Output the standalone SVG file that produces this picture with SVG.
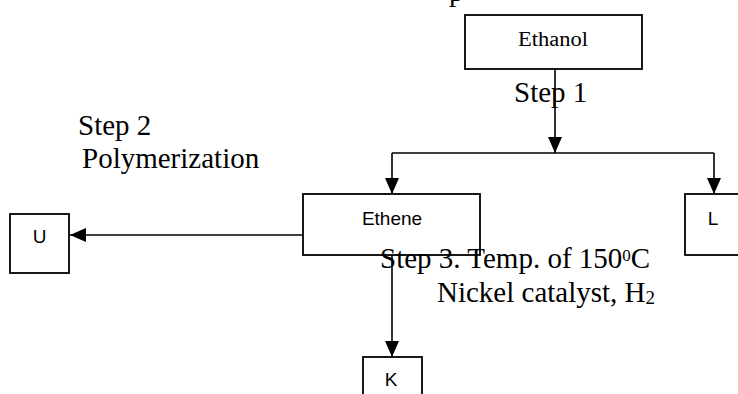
<svg xmlns="http://www.w3.org/2000/svg" width="738" height="394" viewBox="0 0 738 394">
  <style>
    .box { fill: #ffffff; stroke: #000000; stroke-width: 1.8; }
    .lbl { font-family: "Liberation Sans", Arial, sans-serif; font-size: 19px; fill: #000000; text-anchor: middle; }
    .serif { font-family: "Liberation Serif", "Times New Roman", serif; font-size: 29px; fill: #000000; }
    .wire { fill: none; stroke: #000000; stroke-width: 1.6; }
  </style>
  <defs>
    <marker id="arrow" markerUnits="userSpaceOnUse" markerWidth="16" markerHeight="16" viewBox="0 0 16 14" refX="16" refY="7" orient="auto">
      <path d="M0,0 L16,7 L0,14 Z" fill="#000000"/>
    </marker>
  </defs>

  <rect width="738" height="394" fill="#ffffff"/>

  <!-- partly clipped line of text at the top edge -->
  <text class="serif" x="449" y="0.5">p</text>

  <!-- connectors -->
  <g id="connectors">
    <line class="wire" x1="555" y1="69" x2="555" y2="153" marker-end="url(#arrow)"/>
    <polyline class="wire" points="392,153 714,153"/>
    <line class="wire" x1="392" y1="153" x2="392" y2="194" marker-end="url(#arrow)"/>
    <line class="wire" x1="714" y1="153" x2="714" y2="194" marker-end="url(#arrow)"/>
    <line class="wire" x1="303" y1="235" x2="70" y2="235" marker-end="url(#arrow)"/>
    <line class="wire" x1="392" y1="255" x2="392" y2="357" marker-end="url(#arrow)"/>
  </g>

  <g id="ethanol">
    <rect class="box" x="465" y="15" width="177" height="54"/>
    <text x="553" y="46" text-anchor="middle" font-family="'Liberation Serif', 'DejaVu Serif', serif" font-size="20" textLength="70" lengthAdjust="spacingAndGlyphs">Ethanol</text>
  </g>

  <g id="ethene">
    <rect class="box" x="303" y="194" width="177" height="61"/>
    <text class="lbl" x="392" y="225">Ethene</text>
  </g>

  <g id="u">
    <rect class="box" x="10" y="214" width="59" height="59"/>
    <text class="lbl" x="39.5" y="243">U</text>
  </g>

  <g id="l">
    <rect class="box" x="685" y="194" width="62" height="61"/>
    <text class="lbl" x="713" y="225">L</text>
  </g>

  <g id="k">
    <rect class="box" x="363" y="357" width="59" height="59"/>
    <text class="lbl" x="391" y="386">K</text>
  </g>

  <!-- step annotations -->
  <text class="serif" x="514" y="102">Step 1</text>
  <text class="serif" x="78" y="135">Step 2</text>
  <text class="serif" x="82" y="168">Polymerization</text>
  <text class="serif" x="380" y="268">Step 3. Temp. of 150<tspan font-size="17" dy="-7">0</tspan><tspan dy="7">C</tspan></text>
  <text class="serif" x="437" y="302">Nickel catalyst, H<tspan font-size="19" dy="2">2</tspan></text>
</svg>
